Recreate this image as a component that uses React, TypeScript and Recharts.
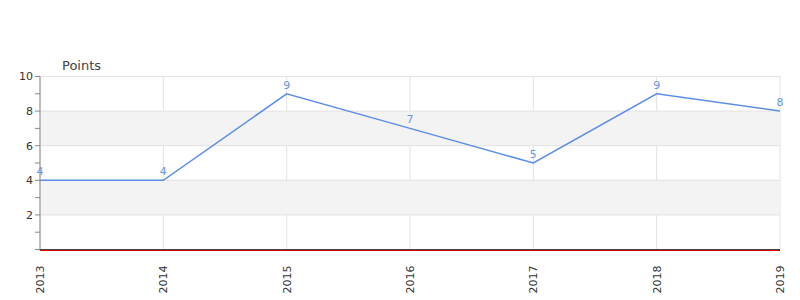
import { CartesianGrid, LabelList, Line, LineChart, ReferenceArea, ReferenceLine, XAxis, YAxis } from "recharts";

const years = ["2013", "2014", "2015", "2016", "2017", "2018", "2019"];
const points = [4, 4, 9, 7, 5, 9, 8];
const yTicks = [0, 1, 2, 3, 4, 5, 6, 7, 8, 9, 10];
const gridValues = [2, 4, 6, 8, 10];
const bands = [[2, 4], [6, 8]];

const data = years.map((year, i) => ({ year, points: points[i] }));

const XTick = (props: any) => {
    const { x, y, payload } = props;
    return (
        <text
            x={x + 4}
            y={y + 8}
            transform={`rotate(-90, ${x + 4}, ${y + 8})`}
            textAnchor="end"
            fontSize={11}
            fill="#333"
            fontFamily="DejaVu Sans"
        >
            {payload.value}
        </text>
    );
};

// red baseline drawn one pixel below the axis line
const RedBase = (p: any) => (
    <line x1={p.x1} x2={p.x2} y1={p.y1 + 1} y2={p.y2 + 1} stroke="#e00000" strokeWidth={1} />
);

export default function App() {
    return (
        <div style={{ position: "absolute", left: 0, top: 0, width: 800, height: 300, background: "#fff" }}>
            <LineChart width={800} height={300} data={data} margin={{ top: 76.5, right: 20, bottom: 0, left: 0 }}>
                {bands.map(([a, b]) => (
                    <ReferenceArea key={a} y1={a} y2={b} fill="#f3f3f3" fillOpacity={1} stroke="none" ifOverflow="extendDomain" />
                ))}
                <CartesianGrid horizontal={false} stroke="#e2e2e2" />
                {gridValues.map((v) => (
                    <ReferenceLine key={v} y={v} stroke="#e2e2e2" />
                ))}
                <XAxis
                    dataKey="year"
                    height={50.5}
                    tick={<XTick />}
                    tickLine={false}
                    axisLine={{ stroke: "#444", strokeWidth: 1 }}
                    interval={0}
                />
                <YAxis
                    width={40}
                    domain={[0, 10]}
                    ticks={yTicks}
                    interval={0}
                    tickFormatter={(v: number) => (v % 2 === 0 && v !== 0 ? String(v) : "")}
                    tick={{ fontSize: 11, fill: "#333", fontFamily: "DejaVu Sans" }}
                    tickSize={5}
                    tickLine={{ stroke: "#888" }}
                    axisLine={{ stroke: "#888" }}
                />
                <ReferenceLine y={0} shape={RedBase} ifOverflow="visible" />
                <Line
                    dataKey="points"
                    stroke="#5b8ee6"
                    strokeWidth={1.5}
                    dot={false}
                    isAnimationActive={false}
                >
                    <LabelList dataKey="points" position="top" offset={5} fill="#6a96e0" fontSize={11} fontFamily="DejaVu Sans" />
                </Line>
                <text x={62} y={70} fontSize={13} fill="#444" fontFamily="DejaVu Sans">
                    Points
                </text>
            </LineChart>
        </div>
    );
}
